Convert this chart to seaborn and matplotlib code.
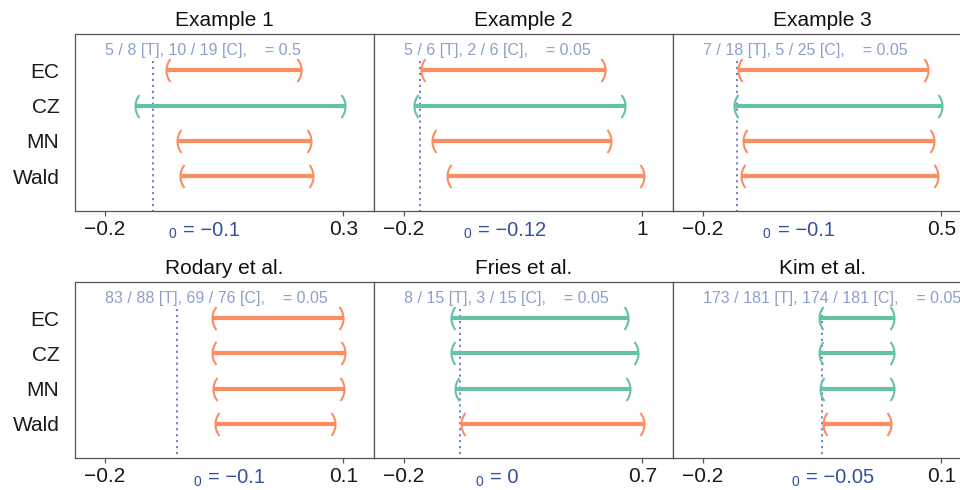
import numpy as np
import pandas as pd
import matplotlib
matplotlib.use("Agg")
import matplotlib.pyplot as plt
from matplotlib.path import Path
import seaborn as sns

# ---------------- data ----------------
methods = ["EC", "CZ", "MN", "Wald"]
titles = ["Example 1", "Example 2", "Example 3", "Rodary et al.", "Fries et al.", "Kim et al."]
count_texts = [
    "5 / 8 [T], 10 / 19 [C],    = 0.5",
    "5 / 6 [T], 2 / 6 [C],    = 0.05",
    "7 / 18 [T], 5 / 25 [C],    = 0.05",
    "83 / 88 [T], 69 / 76 [C],    = 0.05",
    "8 / 15 [T], 3 / 15 [C],    = 0.05",
    "173 / 181 [T], 174 / 181 [C],    = 0.05",
]
delta0 = [-0.1, -0.12, -0.1, -0.11, 0.01, -0.05]
delta0_labels = ["\u22120.1", "\u22120.12", "\u22120.1", "\u22120.1", "0", "\u22120.05"]
tick_lo = [-0.2, -0.2, -0.2, -0.2, -0.2, -0.2]
tick_hi = [0.3, 1.0, 0.5, 0.1, 0.7, 0.1]
tick_lo_labels = ["\u22120.2"] * 6
tick_hi_labels = ["0.3", "1", "0.5", "0.1", "0.7", "0.1"]

lower_ex1 = [-0.071, -0.138, -0.048, -0.043]
upper_ex1 = [0.211, 0.3035, 0.232, 0.237]
lower_ex2 = [-0.113, -0.150, -0.061, 0.017]
upper_ex2 = [0.813, 0.912, 0.840, 1.007]
lower_ex3 = [-0.098, -0.108, -0.083, -0.089]
upper_ex3 = [0.461, 0.503, 0.478, 0.490]
lower_rod = [-0.0655, -0.0655, -0.0647, -0.0617]
upper_rod = [0.100, 0.102, 0.101, 0.0896]
lower_fri = [-0.021, -0.021, -0.006, 0.0157]
upper_fri = [0.646, 0.683, 0.655, 0.705]
lower_kim = [-0.0536, -0.0536, -0.0527, -0.0486]
upper_kim = [0.0402, 0.0402, 0.0402, 0.036]

lowers = [lower_ex1, lower_ex2, lower_ex3, lower_rod, lower_fri, lower_kim]
uppers = [upper_ex1, upper_ex2, upper_ex3, upper_rod, upper_fri, upper_kim]

# ---------------- style ----------------
sns.set_theme(style="white")
plt.rcParams["font.family"] = ["Liberation Sans", "DejaVu Sans"]

GREEN = "#66c2a5"
ORANGE = "#fc8d62"
LIGHTBLUE = "#8da0cb"
DARKBLUE = "#33509f"
DOTBLUE = "#4a5fb0"
SPINE = "#555555"
palette = {"covers": GREEN, "excludes": ORANGE}

# bracket markers "(" and ")"
theta = np.linspace(-np.radians(39), np.radians(39), 40)
arc_x = 1 - np.cos(theta)
arc_y = np.sin(theta)
left_bracket = Path(np.column_stack([arc_x, arc_y]))
right_bracket = Path(np.column_stack([-arc_x, arc_y]))

fig = plt.figure(figsize=(9.6, 4.9), dpi=100)
W, H = 960.0, 490.0
col_x = [74.7, 373.7, 672.7]
col_w = 299.0
row_top = [33.7, 281.7]
row_h = [177.3, 176.6]
label_x_frac = [0.3125, 0.301, 0.302, 0.397, 0.340, 0.398]

ylim = (3.98, -1.03)

for i in range(6):
    r, c = divmod(i, 3)
    ax = fig.add_axes([col_x[c] / W, (H - row_top[r] - row_h[r]) / H, col_w / W, row_h[r] / H])
    lo_t, hi_t = tick_lo[i], tick_hi[i]
    span = hi_t - lo_t
    m = 0.127
    ax.set_xlim(lo_t - m * span, hi_t + m * span)
    ax.set_ylim(*ylim)

    d0 = delta0[i]
    recs = []
    for j, meth in enumerate(methods):
        lo, hi = lowers[i][j], uppers[i][j]
        status = "covers" if lo <= d0 <= hi else "excludes"
        recs.append(dict(method=meth, ypos=j, value=lo, status=status))
        recs.append(dict(method=meth, ypos=j, value=hi, status=status))
    df = pd.DataFrame(recs)

    # reference line at delta_0
    ax.vlines(d0, -0.25, ylim[0], colors=DOTBLUE, linestyles=[(0, (1.4, 2.5))],
              linewidth=1.1, zorder=1)

    sns.lineplot(data=df, x="value", y="ypos", units="method", estimator=None,
                 hue="status", palette=palette, linewidth=3, legend=False,
                 sort=False, ax=ax, solid_capstyle="butt", zorder=2)

    for j in range(len(methods)):
        lo, hi = lowers[i][j], uppers[i][j]
        col = GREEN if lo <= d0 <= hi else ORANGE
        ax.plot([lo], [j], ls="none", marker=left_bracket, ms=16.5, mfc="none",
                mec=col, mew=1.5, clip_on=False, zorder=3)
        ax.plot([hi], [j], ls="none", marker=right_bracket, ms=16.5, mfc="none",
                mec=col, mew=1.5, clip_on=False, zorder=3)

    ax.text(lo_t, -0.56, count_texts[i], ha="left", va="center",
            fontsize=11.5, color=LIGHTBLUE)

    ax.set_xticks([lo_t, hi_t])
    ax.set_xticklabels([tick_lo_labels[i], tick_hi_labels[i]])
    ax.set_yticks(range(len(methods)))
    if c == 0:
        ax.set_yticklabels(methods)
    else:
        ax.set_yticklabels([])
    ax.tick_params(axis="x", length=3.5, width=0.9, color=SPINE, labelsize=15,
                   labelcolor="#1a1a1a", pad=3, bottom=True, direction="out")
    ax.tick_params(axis="y", length=0, labelsize=15, labelcolor="#1a1a1a", pad=11)
    ax.set_xlabel("")
    ax.set_ylabel("")
    ax.set_title(titles[i], fontsize=15, color="#111111", pad=5.8)
    for s in ax.spines.values():
        s.set_visible(True)
        s.set_color(SPINE)
        s.set_linewidth(0.9)

    # delta_0 label (subscript 0 then "= value")
    xf = label_x_frac[i]
    ax.annotate("0", xy=(xf, 0), xycoords="axes fraction",
                xytext=(0, -27.3 * 0.72), textcoords="offset points",
                ha="left", va="baseline", fontsize=10, color=DARKBLUE)
    ax.annotate("= " + delta0_labels[i], xy=(xf, 0), xycoords="axes fraction",
                xytext=(14.6 * 0.72, -24.7 * 0.72), textcoords="offset points",
                ha="left", va="baseline", fontsize=14.5, color=DARKBLUE)

fig.savefig("out.png", dpi=100)
